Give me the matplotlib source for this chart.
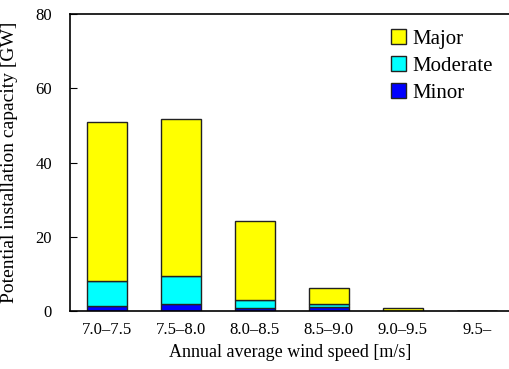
import matplotlib
matplotlib.use('Agg')
import matplotlib.pyplot as plt
import numpy as np

plt.rcParams['font.family'] = ['Liberation Serif', 'DejaVu Serif']

categories = ['7.0\u20137.5', '7.5\u20138.0', '8.0\u20138.5', '8.5\u20139.0', '9.0\u20139.5', '9.5\u2013']
minor = [1.4, 2.0, 0.7, 1.1, 0.05, 0.02]
moderate = [6.7, 7.5, 2.3, 0.7, 0.1, 0.03]
major = [42.8, 42.2, 21.3, 4.5, 0.55, 0.1]


def main():
    ''' draw the stacked bars '''
    fig = plt.figure(figsize=(5.1, 3.69), dpi=100)
    ax = fig.add_axes([0.137, 0.157, 0.863, 0.805])

    x = np.arange(len(categories))
    w = 0.54
    minor_a = np.array(minor)
    mod_a = np.array(moderate)
    maj_a = np.array(major)

    ax.bar(x, minor_a, w, color='#0000ff', edgecolor='#222222', linewidth=1, label='Minor')
    ax.bar(x, mod_a, w, bottom=minor_a, color='#00ffff', edgecolor='#222222', linewidth=1, label='Moderate')
    ax.bar(x, maj_a, w, bottom=minor_a + mod_a, color='#ffff00', edgecolor='#222222', linewidth=1, label='Major')

    ax.set_xlim(-0.5, 5.45)
    ax.set_ylim(0, 80)
    ax.set_yticks([0, 20, 40, 60, 80])
    ax.set_xticks(x)
    ax.set_xticklabels(categories)
    ax.tick_params(axis='y', direction='in', length=5, labelsize=12, pad=13)
    ax.tick_params(axis='x', length=0, labelsize=12, pad=8)
    ax.set_ylabel('Potential installation capacity [GW]', fontsize=14)
    ax.yaxis.set_label_coords(-0.118, 0.5)
    ax.set_xlabel('Annual average wind speed [m/s]', fontsize=13)
    for s in ax.spines.values():
        s.set_linewidth(1.2)

    handles, labels = ax.get_legend_handles_labels()
    ax.legend(handles[::-1], labels[::-1], loc='upper right', frameon=False,
              fontsize=15, handlelength=0.75, handleheight=0.75, handletextpad=0.3,
              labelspacing=0.35, borderaxespad=0.3, bbox_to_anchor=(0.995, 1.0))

    fig.savefig('out.png', dpi=100)


if __name__ == '__main__':
    main()
